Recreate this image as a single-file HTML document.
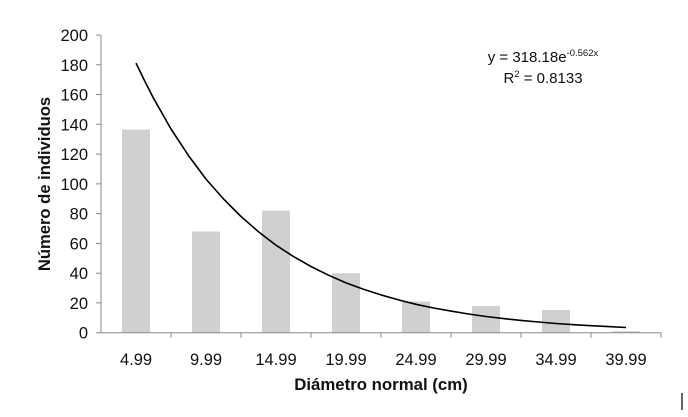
<!DOCTYPE html>
<html><head><meta charset="utf-8"><style>body{margin:0;background:#fff}svg{display:block}text{font-family:"Liberation Sans",sans-serif;fill:#111}</style></head>
<body>
<svg width="688" height="417" viewBox="0 0 688 417">
<g fill="#d0d0d0">
<rect x="122" y="129.6" width="28" height="203.1"/>
<rect x="192" y="231.5" width="28" height="101.2"/>
<rect x="262" y="210.7" width="28" height="122"/>
<rect x="332" y="273.2" width="28" height="59.5"/>
<rect x="402" y="301.5" width="28" height="31.2"/>
<rect x="472" y="305.9" width="28" height="26.8"/>
<rect x="542" y="309.9" width="28" height="22.8"/>
<rect x="612" y="331.2" width="28" height="1.5"/>
</g>
<g stroke="#888" stroke-width="1" fill="none">
<path d="M101 35V332.7H661"/>
<path d="M96 35H101M96 64.8H101M96 94.5H101M96 124.3H101M96 154.1H101M96 183.9H101M96 213.6H101M96 243.4H101M96 273.2H101M96 302.9H101M96 332.7H101"/>
<path d="M171 332.7v5M241 332.7v5M311 332.7v5M381 332.7v5M451 332.7v5M521 332.7v5M591 332.7v5M661 332.7v5"/>
</g>
<polyline fill="none" stroke="#000" stroke-width="1.6" stroke-linejoin="round" points="136,63.1 144.75,81.1 153.5,98.2 171,129 188.5,155.6 206,179.1 223.5,198.9 241,216.5 258.5,231.8 276,245.2 293.5,256.6 311,266.5 328.5,275.2 346,282.9 363.5,289.3 381,294.9 398.5,299.9 416,304.3 433.5,308 451,311.1 468.5,314 486,316.5 503.5,318.6 521,320.4 538.5,322 556,323.5 573.5,324.7 591,325.7 608.5,326.6 626,327.5"/>
<g font-size="16.5" text-anchor="end">
<text x="88" y="41">200</text><text x="88" y="70.8">180</text><text x="88" y="100.5">160</text><text x="88" y="130.3">140</text><text x="88" y="160">120</text><text x="88" y="189.9">100</text><text x="88" y="219.6">80</text><text x="88" y="249.4">60</text><text x="88" y="279.2">40</text><text x="88" y="309">20</text><text x="88" y="338.7">0</text>
</g>
<g font-size="16.5" text-anchor="middle">
<text x="136" y="365">4.99</text><text x="206" y="365">9.99</text><text x="276" y="365">14.99</text><text x="346" y="365">19.99</text><text x="416" y="365">24.99</text><text x="486" y="365">29.99</text><text x="556" y="365">34.99</text><text x="626" y="365">39.99</text>
<text x="381" y="390" font-weight="bold" font-size="16.8">Diámetro normal (cm)</text>
<text transform="translate(50,184) rotate(-90)" font-weight="bold" font-size="16.6">Número de individuos</text>
<text x="543" y="62" font-size="15">y = 318.18e<tspan font-size="9.5" dy="-6">-0.562x</tspan></text>
<text x="543" y="83" font-size="15">R<tspan font-size="9.5" dy="-6">2</tspan><tspan dy="6"> = 0.8133</tspan></text>
</g>
<line x1="682" y1="393" x2="682" y2="410" stroke="#333" stroke-width="1.5"/>
</svg>
</body></html>
